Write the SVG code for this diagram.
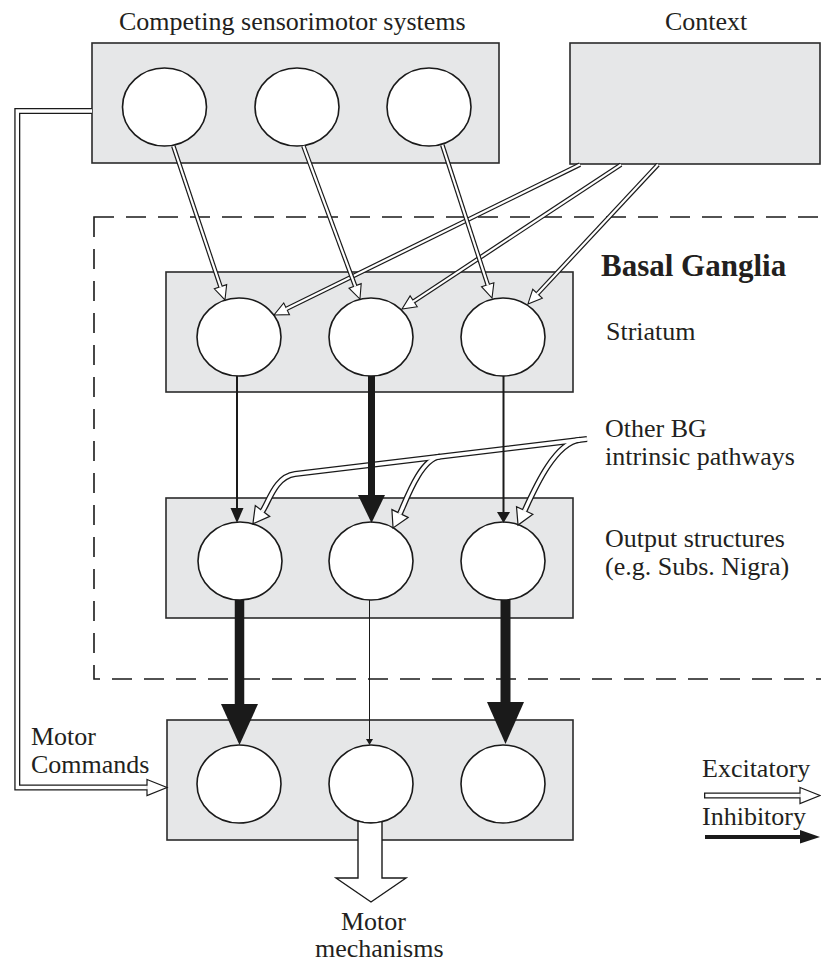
<svg xmlns="http://www.w3.org/2000/svg" width="821" height="964" viewBox="0 0 821 964">
  <style>
    .box{fill:#e6e7e8;stroke:#2b2b2b;stroke-width:1.6}
    .cell{fill:#fff;stroke:#1a1a1a;stroke-width:1.6}
    .lbl{font-family:"Liberation Serif","Times New Roman",serif;font-size:26px;fill:#231f20}
    .bold{font-weight:bold;font-size:31px}
    .region{fill:none;stroke:#1a1a1a;stroke-width:1.6;stroke-dasharray:20 12}
    .outS{fill:none;stroke:#1a1a1a;stroke-width:4.6}
    .inS{fill:none;stroke:#fff;stroke-width:2.2;marker-end:url(#headS)}
    .outL{fill:none;stroke:#1a1a1a;stroke-width:6;stroke-linejoin:miter}
    .inL{fill:none;stroke:#fff;stroke-width:3.4;stroke-linejoin:miter}
    .inhib{fill:#1a1a1a;stroke:none}
    .shaft{stroke:#1a1a1a;fill:none}
  </style>
  <defs>
    <!-- open (excitatory) arrowheads; the small white rect opens the base where the shaft enters -->
    <marker id="headS" markerUnits="userSpaceOnUse" orient="auto" viewBox="-2 -9 20 18" markerWidth="20" markerHeight="18" refX="0" refY="0">
      <path d="M0,-6.5 L14,0 L0,6.5 Z" fill="#fff" stroke="#1a1a1a" stroke-width="1.1"/>
      <rect x="-0.8" y="-1.1" width="1.6" height="2.2" fill="#fff"/>
    </marker>
    <marker id="headM" markerUnits="userSpaceOnUse" orient="auto" viewBox="-2 -11 22 22" markerWidth="22" markerHeight="22" refX="0" refY="0">
      <path d="M0,-9 L16,0 L0,9 Z" fill="#fff" stroke="#1a1a1a" stroke-width="1.2"/>
      <rect x="-0.8" y="-1.7" width="1.6" height="3.4" fill="#fff"/>
    </marker>
    <marker id="headL" markerUnits="userSpaceOnUse" orient="auto" viewBox="-2 -10 26 20" markerWidth="26" markerHeight="20" refX="0" refY="0">
      <path d="M0,-8 L20,0 L0,8 Z" fill="#fff" stroke="#1a1a1a" stroke-width="1.2"/>
      <rect x="-0.8" y="-1.7" width="1.6" height="3.4" fill="#fff"/>
    </marker>
    <!-- excitatory routes (drawn twice: dark casing, white core) -->
    <path id="sm1" d="M173.3,146 L220.5,286.7"/>
    <path id="sm2" d="M303.4,146 L355.1,285.9"/>
    <path id="sm3" d="M442.3,145 L487.7,284.7"/>
    <path id="cx1" d="M580,164.6 L286.6,308.8"/>
    <path id="cx2" d="M621,164.6 L413.7,301.3"/>
    <path id="cx3" d="M658,164.6 L537.5,293.7"/>
    <path id="bg1" d="M587,439 L295,474 C275,476.4 268.5,503 262.5,511"/>
    <path id="bg2" d="M440,456.6 C420,459 405.2,502.7 400,513.5"/>
    <path id="bg3" d="M580,439.8 C555,442.8 535,488 524.7,510.5"/>
    <path id="cmd" d="M92,111 H17.3 V787.5 H147"/>
  </defs>

  <!-- basal ganglia region -->
  <rect class="region" x="94" y="217" width="780" height="462"/>

  <g id="sensorimotor">
    <rect class="box" x="92" y="43" width="407" height="120"/>
    <ellipse class="cell" cx="164.5" cy="107" rx="42" ry="39"/>
    <ellipse class="cell" cx="297" cy="107" rx="42" ry="39"/>
    <ellipse class="cell" cx="429" cy="107" rx="42" ry="39"/>
  </g>
  <g id="context">
    <rect class="box" x="570" y="43" width="250" height="121"/>
  </g>
  <g id="striatum">
    <rect class="box" x="166" y="272" width="407" height="120"/>
    <ellipse class="cell" cx="239" cy="337" rx="42" ry="39"/>
    <ellipse class="cell" cx="371" cy="337" rx="42" ry="39"/>
    <ellipse class="cell" cx="503" cy="337" rx="42" ry="39"/>
  </g>
  <g id="output">
    <rect class="box" x="166" y="498" width="407" height="120"/>
    <ellipse class="cell" cx="240" cy="561" rx="42" ry="39"/>
    <ellipse class="cell" cx="371" cy="561" rx="42" ry="39"/>
    <ellipse class="cell" cx="503" cy="561" rx="42" ry="39"/>
  </g>
  <g id="motor">
    <rect class="box" x="167" y="720" width="406" height="120"/>
    <ellipse class="cell" cx="239" cy="784" rx="42" ry="39"/>
    <ellipse class="cell" cx="371" cy="784" rx="42" ry="39"/>
    <ellipse class="cell" cx="503" cy="784" rx="42" ry="39"/>
  </g>

  <g id="connectors">
    <!-- excitatory: context and sensorimotor into striatum -->
    <use href="#cx1" class="outS"/><use href="#cx2" class="outS"/><use href="#cx3" class="outS"/>
    <use href="#cx1" class="inS"/><use href="#cx2" class="inS"/><use href="#cx3" class="inS"/>
    <use href="#sm1" class="outS"/><use href="#sm2" class="outS"/><use href="#sm3" class="outS"/>
    <use href="#sm1" class="inS"/><use href="#sm2" class="inS"/><use href="#sm3" class="inS"/>

    <!-- excitatory: other intrinsic pathways into output structures -->
    <use href="#bg1" class="outL"/><use href="#bg2" class="outL"/><use href="#bg3" class="outL"/>
    <use href="#bg1" class="inL" marker-end="url(#headM)"/>
    <use href="#bg2" class="inL" marker-end="url(#headM)"/>
    <use href="#bg3" class="inL" marker-end="url(#headM)"/>

    <!-- excitatory: efference copy of motor commands -->
    <use href="#cmd" class="outL"/>
    <use href="#cmd" class="inL" marker-end="url(#headL)"/>

    <!-- inhibitory: striatum to output structures -->
    <line class="shaft" x1="237" y1="376" x2="237" y2="509" stroke-width="2"/>
    <polygon class="inhib" points="230.5,508 243.5,508 237,523"/>
    <line class="shaft" x1="371.5" y1="376" x2="371.5" y2="496" stroke-width="7"/>
    <polygon class="inhib" points="358,495 385,495 371.5,523"/>
    <line class="shaft" x1="503.5" y1="376" x2="503.5" y2="513" stroke-width="2"/>
    <polygon class="inhib" points="497,512 510,512 503.5,523"/>

    <!-- inhibitory: output structures to motor stage -->
    <line class="shaft" x1="239.5" y1="600" x2="239.5" y2="705" stroke-width="9.5"/>
    <polygon class="inhib" points="221,704 258,704 239.5,745"/>
    <line class="shaft" x1="369.5" y1="600" x2="369.5" y2="740" stroke-width="1"/>
    <polygon class="inhib" points="366,739 373,739 369.5,745"/>
    <line class="shaft" x1="505.5" y1="600" x2="505.5" y2="703" stroke-width="10"/>
    <polygon class="inhib" points="487,702 524,702 505.5,744"/>

    <!-- selected channel out to motor mechanisms -->
    <path d="M358,821.1 V878 H336 L371,902 L406,878 H382 V821.6 A42,39 0 0,1 358,821.1 Z" fill="#fff" stroke="#1a1a1a" stroke-width="1.4"/>
  </g>

  <g id="legend">
    <path class="outL" d="M704,795.5 H800"/>
    <path class="inL" d="M705.3,795.5 H800" marker-end="url(#headL)"/>
    <line class="shaft" x1="705" y1="837" x2="801" y2="837" stroke-width="4"/>
    <polygon class="inhib" points="800,830 800,843.5 820,837"/>
    <text class="lbl" x="702" y="777">Excitatory</text>
    <text class="lbl" x="702" y="825">Inhibitory</text>
  </g>

  <g id="labels">
    <text class="lbl" x="119" y="30">Competing sensorimotor systems</text>
    <text class="lbl" x="665" y="30">Context</text>
    <text class="lbl bold" x="601" y="276">Basal Ganglia</text>
    <text class="lbl" x="606" y="340">Striatum</text>
    <text class="lbl" x="605" y="437">Other BG</text>
    <text class="lbl" x="605" y="465">intrinsic pathways</text>
    <text class="lbl" x="605" y="547">Output structures</text>
    <text class="lbl" x="605" y="575">(e.g. Subs. Nigra)</text>
    <text class="lbl" x="31" y="745">Motor</text>
    <text class="lbl" x="31" y="773">Commands</text>
    <text class="lbl" x="341" y="930">Motor</text>
    <text class="lbl" x="315" y="957">mechanisms</text>
  </g>
</svg>
